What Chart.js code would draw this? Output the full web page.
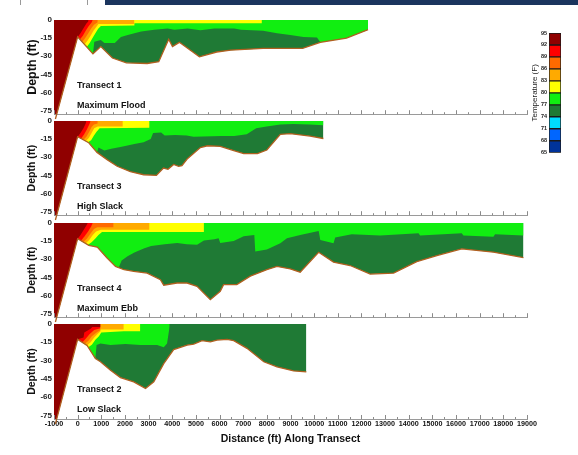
<!DOCTYPE html>
<html>
<head>
<meta charset="utf-8">
<script src="https://cdn.jsdelivr.net/npm/chart.js@4.4.1/dist/chart.umd.min.js"></script>
<style>
body{margin:0;background:#fff;width:578px;height:455px;overflow:hidden;position:relative;}
canvas{position:absolute;}
.lbl{position:absolute;z-index:5;font:bold 9px Arial,"Liberation Sans",sans-serif;color:#111;white-space:nowrap;line-height:10px;}
#hdr{position:absolute;left:105px;top:0;width:473px;height:5px;background:#1b355e;}
.rule{position:absolute;top:0;width:1px;height:5px;background:#999;}
</style>
</head>
<body>
<div id="hdr"></div>
<div class="rule" style="left:20px"></div>
<div class="rule" style="left:87px"></div>
<canvas id="cbar" width="60" height="134" style="left:510px;top:24px"></canvas>
<script>
/* AXES */
const xTicks = [-1000,0,1000,2000,3000,4000,5000,6000,7000,8000,9000,10000,11000,12000,13000,14000,15000,16000,17000,18000,19000];
const depthTicks = [0,-15,-30,-45,-60,-75];
const tempTicks = [95,92,89,86,83,80,77,74,71,68,65];
const tempColors = ['#900000','#ff0000','#ff6a00','#ffaa00','#ffff00','#11ee11','#1f7a35','#00dcff','#0066ff','#00339a'];

/* TRANSECT 1 - MAXIMUM FLOOD (depth in ft at distance in ft) */
const t1Bed = [[-940,-82],[0,-14],[647,-28],[980,-22],[1470,-31.5],[2060,-35.5],[2940,-36],[3430,-34.5],[3850,-16],[4010,-22],[4300,-18.5],[5150,-30.5],[5880,-26.5],[6470,-25],[7840,-23.5],[9510,-23.5],[10260,-18.5],[11370,-15],[12280,-8]];
const t1DarkRed = [[-1000,-87],[0,-14],[120,-11],[240,-7],[370,-3],[460,-1],[460,0]];
const t1Red = [[0,-14],[100,-16],[220,-13],[340,-9],[470,-5],[590,-2],[640,0]];
const t1Orange = [[0,-14],[200,-18],[320,-15],[450,-11],[570,-7],[690,-4],[830,-2],[850,0]];
const t1Amber = [[0,-14],[300,-20],[420,-17],[550,-13],[670,-9],[780,-6],[880,-3.3],[2400,-3.3],[2400,0]];
const t1Yellow = [[0,-14],[400,-22],[510,-19],[630,-15],[750,-11],[860,-7.5],[980,-5],[2400,-4.5],[2400,-2.7],[7790,-2.7],[7790,0]];
const t1Light = [[0,-14],[647,-28],[705,-18],[980,-16.5],[1130,-19],[1570,-19],[1830,-14],[2120,-12.5],[2400,-11],[2690,-9.5],[3240,-8],[3800,-7],[4090,-8],[4650,-7],[5190,-8.5],[5780,-7],[6620,-7],[6910,-8],[7840,-9],[8430,-11],[8990,-12.5],[9550,-14],[10120,-14.5],[10260,-18.5],[11370,-15],[12280,-8]];

/* TRANSECT 3 - HIGH SLACK */
const t3Bed = [[-940,-82],[0,-13],[470,-18],[820,-26],[1245,-32],[1670,-37.5],[2230,-42],[2790,-44.5],[3330,-45],[3630,-39],[3820,-40],[4060,-36],[4270,-37.5],[4410,-37],[4630,-31.5],[5190,-22],[5490,-20.5],[6030,-21],[6600,-24.5],[7020,-27],[7600,-27],[8000,-24],[8570,-11],[8990,-10.5],[9830,-12.5],[10390,-14.5]];
const t3DarkRed = [[-1000,-87],[0,-13],[120,-10],[245,-6],[340,-2],[370,0]];
const t3Red = [[0,-13],[150,-14.5],[275,-11],[390,-7],[490,-3],[550,0]];
const t3Orange = [[0,-13],[245,-15.5],[370,-13],[490,-9],[590,-5],[690,-3],[850,-2],[850,0]];
const t3Amber = [[0,-13],[340,-16.5],[470,-14],[590,-10],[700,-6],[850,-4.5],[1910,-4.5],[1910,0]];
const t3Yellow = [[0,-13],[440,-17.5],[570,-16],[690,-12],[800,-9],[930,-6],[3040,-5.5],[3040,0]];
const t3Light = [[0,-13],[470,-18],[820,-26],[880,-22],[1130,-24.5],[1420,-23],[1810,-21.5],[2060,-20.5],[2400,-19],[2790,-17.5],[3090,-15],[3190,-10],[3530,-9.5],[3680,-12],[4120,-11.5],[4610,-12],[4900,-13],[6080,-12.5],[6620,-12.5],[7150,-11],[7550,-6],[7990,-4.5],[8570,-3],[9110,-2.5],[9800,-3],[10390,-3.5]];

/* TRANSECT 4 - MAXIMUM EBB */
const t4Bed = [[-940,-82],[0,-13],[470,-18.5],[830,-20],[1245,-29],[1600,-36],[1960,-38.7],[2370,-40],[2940,-41.5],[3500,-47],[3640,-51.5],[4200,-49.7],[4630,-49.7],[5050,-52.5],[5610,-63.5],[6030,-56.5],[6170,-51],[6730,-51],[7300,-44],[8000,-38.7],[8430,-36],[8990,-38],[9410,-40.7],[10190,-24.2],[10820,-32.4],[11520,-35.2],[12370,-42.3],[13360,-41.5],[14340,-32],[15190,-27],[16240,-21.4],[17580,-24.2],[18850,-28.6]];
const t4DarkRed = [[-1000,-87],[0,-13],[120,-10],[245,-6],[370,-2],[430,0]];
const t4Red = [[0,-13],[150,-14.5],[295,-11],[440,-7],[570,-3],[640,0]];
const t4Orange = [[0,-13],[245,-15.7],[390,-13],[540,-9],[690,-5],[830,-3.5],[1520,-3.5],[1520,0]];
const t4Amber = [[0,-13],[340,-17],[490,-14],[640,-10],[780,-7],[980,-5.5],[3040,-5.5],[3040,0]];
const t4Yellow = [[0,-13],[440,-18],[590,-16],[740,-13],[880,-10],[1030,-7.5],[5340,-7.5],[5340,0]];
const t4Light = [[0,-13],[470,-18.5],[830,-20],[1245,-29],[1600,-36],[1735,-37],[1860,-31],[2110,-27.5],[2400,-24.5],[2820,-21],[3110,-19],[3680,-17.5],[4210,-16.5],[4610,-17.5],[5050,-18],[5340,-14.5],[5780,-13.5],[5960,-12.6],[6030,-16.5],[6600,-15],[7020,-11],[7470,-10],[7510,-23.5],[8000,-22],[8570,-16.8],[8850,-12.6],[9410,-10],[10190,-6.6],[10260,-14],[10820,-16.8],[10890,-12],[11590,-9.3],[12790,-10.4],[14410,-8.5],[14480,-10.4],[16240,-8.5],[16310,-10.4],[17580,-11.3],[17650,-9.3],[18850,-10.4]];

/* TRANSECT 2 - LOW SLACK */
const t2Bed = [[-940,-82],[0,-12.6],[400,-17.6],[750,-28.3],[965,-31],[1390,-38],[1810,-44],[2370,-47.5],[2870,-53],[3220,-47.5],[3640,-32.5],[4060,-21],[4630,-17.3],[4910,-16.5],[5260,-13.7],[5610,-14.6],[5890,-13.2],[6320,-12.6],[6600,-13.7],[7160,-20],[7870,-31],[8430,-35.2],[9130,-38.5],[9670,-39.3]];
const t2DarkRed = [[-1000,-87],[0,-12.6],[250,-11],[280,-7],[550,-4],[620,-2.5],[965,-2.5],[965,0]];
const t2Red = [[0,-12.6],[200,-15],[350,-12],[500,-8.5],[700,-5],[965,-3.5],[965,0]];
const t2Orange = [[0,-12.6],[300,-16.3],[450,-14],[600,-10],[800,-7],[965,-5],[965,0]];
const t2Amber = [[0,-12.6],[400,-17.5],[550,-15],[700,-11],[850,-8],[965,-6],[965,-4.5],[1950,-4.5],[1950,0]];
const t2Yellow = [[0,-12.6],[450,-19],[600,-17],[750,-13],[900,-10],[1000,-7],[1950,-6],[2650,-6],[2650,0]];
const t2Light = [[0,-12.6],[400,-17.6],[750,-28.3],[800,-17.3],[965,-16],[1390,-17.3],[2020,-16.5],[2650,-17.3],[3360,-17.3],[3640,-19],[3780,-16],[3890,-2],[3890,0]];

Chart.defaults.font.family = 'Arial, "Liberation Sans", sans-serif';
Chart.defaults.color = '#111';

const panels = [
  {title:'Transect 1', tide:'Maximum Flood', top:20, label:12.5, bed:t1Bed, layers:[t1DarkRed,t1Red,t1Orange,t1Amber,t1Yellow,t1Light]},
  {title:'Transect 3', tide:'High Slack', top:121, label:10.5, bed:t3Bed, layers:[t3DarkRed,t3Red,t3Orange,t3Amber,t3Yellow,t3Light]},
  {title:'Transect 4', tide:'Maximum Ebb', top:223, label:10.5, bed:t4Bed, layers:[t4DarkRed,t4Red,t4Orange,t4Amber,t4Yellow,t4Light]},
  {title:'Transect 2', tide:'Low Slack', top:324, label:10.5, bed:t2Bed, layers:[t2DarkRed,t2Red,t2Orange,t2Amber,t2Yellow,t2Light]}
];
const PLOT_H = 95, PAD_TOP = 8;

const pts = a => a.map(p => ({x:p[0], y:p[1]}));

// short tick marks pointing up from the axis
const tickMarks = {
  id:'tickMarks',
  afterDatasetsDraw(chart){
    const {ctx, chartArea, scales:{x}} = chart;
    ctx.save();
    ctx.strokeStyle = '#8a8a8a';
    ctx.lineWidth = 1;
    xTicks.forEach(v => {
      [[v,4],[v+500,2]].forEach(([tv,len]) => {
        if(tv > x.max) return;
        const px = Math.round(x.getPixelForValue(tv)) + 0.5;
        ctx.beginPath();
        ctx.moveTo(px, chartArea.bottom);
        ctx.lineTo(px, chartArea.bottom - len);
        ctx.stroke();
      });
    });
    ctx.restore();
  }
};

panels.forEach((p,k) => {
  const last = k === panels.length - 1;
  const xH = last ? 26 : 6;
  const cv = document.createElement('canvas');
  cv.width = 578;
  cv.height = PAD_TOP + PLOT_H + xH;
  cv.style.left = '0px';
  cv.style.top = (p.top - PAD_TOP) + 'px';
  document.body.appendChild(cv);

  const ds = [];
  ds.push({data:pts(p.bed), borderColor:'#b06020', borderWidth:1.3, fill:false, order:0, clip:false});
  p.layers.forEach((l,i) => ds.push({data:pts(l), backgroundColor:tempColors[i], borderWidth:0, fill:{value:0}, order:i+1}));
  ds.push({data:pts(p.bed), backgroundColor:tempColors[6], borderWidth:0, fill:{value:0}, order:7});

  new Chart(cv, {
    type:'line',
    data:{datasets:ds},
    options:{
      responsive:false, animation:false,
      layout:{padding:{top:PAD_TOP, right:51, bottom:0, left:0}},
      elements:{point:{radius:0}, line:{tension:0}},
      plugins:{legend:{display:false}, tooltip:{enabled:false}},
      scales:{
        x:{type:'linear', min:-1000, max:19000,
          afterBuildTicks:s => { s.ticks = xTicks.map(v => ({value:v})); },
          afterFit:s => { s.height = xH; },
          grid:{display:false, drawTicks:false},
          border:{display:true, color:'#9a9a9a', width:1},
          ticks:{display:last, font:{size:7.2, weight:'bold'}, color:'#111', padding:1, maxRotation:0, autoSkip:false, callback:v => String(v)},
          title:{display:last, text:'Distance (ft) Along Transect', font:{size:10.5, weight:'bold'}, color:'#111', padding:0}
        },
        y:{type:'linear', min:-78, max:0,
          afterBuildTicks:s => { s.ticks = depthTicks.map(v => ({value:v})); },
          afterFit:s => { s.width = 54; },
          grid:{display:false, drawTicks:false},
          border:{display:false},
          ticks:{font:{size:8, weight:'bold'}, color:'#222', padding:2, callback:v => String(v)},
          title:{display:true, text:'Depth (ft)', font:{size:p.label, weight:'bold'}, color:'#111', padding:{top:32.5 - p.label*0.6, bottom:0}}
        }
      }
    },
    plugins:[tickMarks]
  });

  ['title','tide'].forEach((key,j) => {
    const d = document.createElement('div');
    d.className = 'lbl';
    d.textContent = p[key];
    d.style.left = '77px';
    d.style.top = (p.top + 59.5 + j*20) + 'px';
    document.body.appendChild(d);
  });
});

/* COLOUR BAR */
new Chart(document.getElementById('cbar'), {
  type:'bar',
  data:{
    labels:[''],
    datasets:tempColors.map((c,i) => ({
      data:[[tempTicks[i+1], tempTicks[i]]],
      backgroundColor:c, borderColor:'#1a1a1a', borderWidth:1, borderSkipped:false,
      grouped:false, barPercentage:1, categoryPercentage:1
    }))
  },
  options:{
    responsive:false, animation:false,
    layout:{padding:{top:9, right:9, bottom:5, left:0}},
    plugins:{legend:{display:false}, tooltip:{enabled:false}},
    scales:{
      x:{display:false},
      y:{min:65, max:95,
        afterBuildTicks:s => { s.ticks = tempTicks.map(v => ({value:v})); },
        afterFit:s => { s.width = 39; },
        grid:{display:false, drawTicks:false},
        border:{display:false},
        ticks:{font:{size:5.5, weight:'bold'}, color:'#222', padding:2},
        title:{display:true, text:'Temperature (F)', font:{size:8}, color:'#222', padding:{top:20, bottom:0}}
      }
    }
  }
});
</script>
</body>
</html>
